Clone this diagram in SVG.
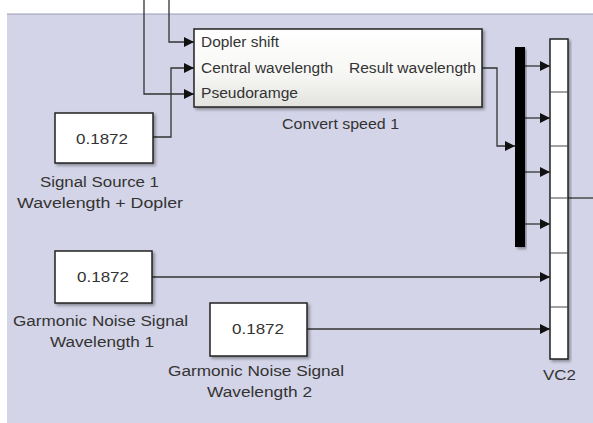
<svg xmlns="http://www.w3.org/2000/svg" width="593" height="423" viewBox="0 0 593 423">
<defs>
<marker id="arr" viewBox="0 0 10 10" refX="10" refY="5" markerWidth="10" markerHeight="10" markerUnits="userSpaceOnUse" orient="auto">
<path d="M0,0 L10,5 L0,10 Z" fill="#111"/>
</marker>
<linearGradient id="gr" x1="0" y1="0" x2="0" y2="1">
<stop offset="0" stop-color="#ffffff"/>
<stop offset="0.6" stop-color="#f6f6f4"/>
<stop offset="1" stop-color="#e2e2de"/>
</linearGradient>
<filter id="sh" x="-10%" y="-10%" width="130%" height="140%">
<feDropShadow dx="2" dy="2" stdDeviation="1.5" flood-color="#000" flood-opacity="0.35"/>
</filter>
</defs>
<style>
.blk{fill:#ffffff;stroke:#222;stroke-width:1.5;filter:url(#sh)}
.t{font-family:"Liberation Sans",Arial,sans-serif;font-size:14px;fill:#333}
.w{fill:none;stroke:#333;stroke-width:1.3}
.wa{fill:none;stroke:#333;stroke-width:1.3;marker-end:url(#arr)}
</style>
<rect x="0" y="0" width="593" height="423" fill="#ffffff"/>
<rect x="7" y="14" width="586" height="409" fill="#d3d4e7"/>
<line x1="7" y1="14" x2="593" y2="14" stroke="#9b9bb5" stroke-width="1"/>
<g id="connectors">
<polyline class="wa" points="169,0 169,42 194,42"/>
<polyline class="wa" points="144,0 144,94 194,94"/>
<polyline class="wa" points="153,137 171,137 171,68 194,68"/>
<polyline class="wa" points="482,68 497,68 497,146 515,146"/>
<polyline class="wa" points="525,66 550,66"/>
<polyline class="wa" points="525,118 550,118"/>
<polyline class="wa" points="525,172 550,172"/>
<polyline class="wa" points="525,224 550,224"/>
<polyline class="wa" points="152,277 550,277"/>
<polyline class="wa" points="307,329 550,329"/>
<polyline class="w" points="568,198 593,198"/>
</g>
<g id="convert">
<rect x="194" y="29" width="288" height="78" fill="url(#gr)" stroke="#222" stroke-width="1.5" filter="url(#sh)"/>
<text class="t" x="201" y="47" textLength="78" lengthAdjust="spacingAndGlyphs">Dopler shift</text>
<text class="t" x="201" y="73" textLength="132" lengthAdjust="spacingAndGlyphs">Central wavelength</text>
<text class="t" x="201" y="98" textLength="97" lengthAdjust="spacingAndGlyphs">Pseudoramge</text>
<text class="t" x="349" y="73" textLength="127" lengthAdjust="spacingAndGlyphs">Result wavelength</text>
<text class="t" x="282" y="129" textLength="117" lengthAdjust="spacingAndGlyphs">Convert speed 1</text>
</g>
<g id="source1">
<rect class="blk" x="55" y="113" width="98" height="50"/>
<text class="t" x="76" y="144" textLength="52" lengthAdjust="spacingAndGlyphs">0.1872</text>
<text class="t" x="40" y="187" textLength="119" lengthAdjust="spacingAndGlyphs">Signal Source 1</text>
<text class="t" x="17" y="208" textLength="166" lengthAdjust="spacingAndGlyphs">Wavelength + Dopler</text>
</g>
<g id="noise1">
<rect class="blk" x="55" y="251" width="97" height="52"/>
<text class="t" x="77" y="282" textLength="52" lengthAdjust="spacingAndGlyphs">0.1872</text>
<text class="t" x="13" y="326" textLength="175" lengthAdjust="spacingAndGlyphs">Garmonic Noise Signal</text>
<text class="t" x="50" y="347" textLength="104" lengthAdjust="spacingAndGlyphs">Wavelength 1</text>
</g>
<g id="noise2">
<rect class="blk" x="210" y="303" width="97" height="53"/>
<text class="t" x="232" y="334" textLength="52" lengthAdjust="spacingAndGlyphs">0.1872</text>
<text class="t" x="168" y="376" textLength="176" lengthAdjust="spacingAndGlyphs">Garmonic Noise Signal</text>
<text class="t" x="207" y="397" textLength="105" lengthAdjust="spacingAndGlyphs">Wavelength 2</text>
</g>
<g id="mux">
<rect x="515" y="47" width="10" height="200" fill="#000" filter="url(#sh)"/>
</g>
<g id="vc2">
<rect class="blk" x="550" y="39" width="18" height="320"/>
<line x1="550" y1="92" x2="568" y2="92" stroke="#444" stroke-width="1"/>
<line x1="550" y1="146" x2="568" y2="146" stroke="#444" stroke-width="1"/>
<line x1="550" y1="198" x2="568" y2="198" stroke="#444" stroke-width="1"/>
<line x1="550" y1="253" x2="568" y2="253" stroke="#444" stroke-width="1"/>
<line x1="550" y1="307" x2="568" y2="307" stroke="#444" stroke-width="1"/>
<text class="t" x="543" y="380" textLength="33" lengthAdjust="spacingAndGlyphs">VC2</text>
</g>
</svg>
